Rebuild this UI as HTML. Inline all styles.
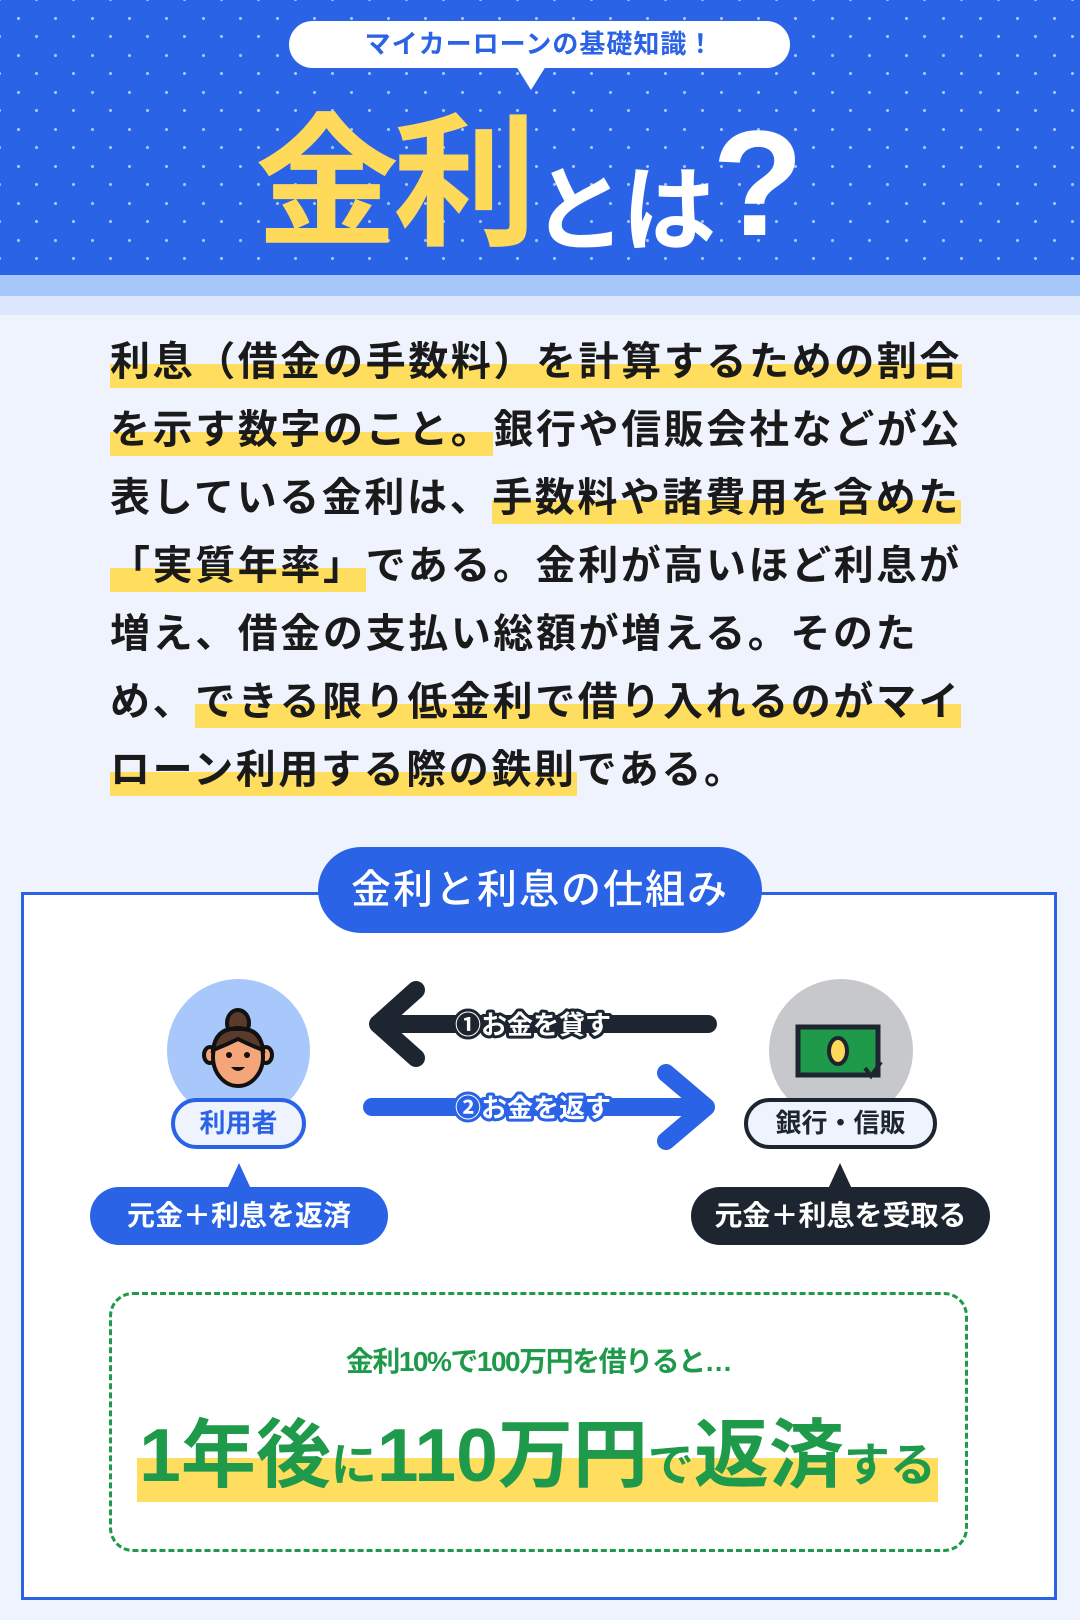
<!DOCTYPE html>
<html><head><meta charset="utf-8"><style>
*{margin:0;padding:0;box-sizing:border-box}
body{width:1080px;height:1620px;overflow:hidden;background:#eef3fd;font-family:"Liberation Sans","Noto Sans CJK JP",sans-serif;font-weight:700;position:relative}
.a{position:absolute}
#hdr{left:0;top:0;width:1080px;height:275px;background-color:#2b63e6;background-image:radial-gradient(circle,#a9c4f7 1.3px,transparent 1.8px),radial-gradient(circle,#a9c4f7 1.3px,transparent 1.8px);background-size:37px 37px,37px 37px;background-position:0 0,18px 18px}
.line{position:absolute;left:110px;font-size:40px;letter-spacing:2.6px;color:#1a1a1a;white-space:nowrap;line-height:48px}
.hl{background:linear-gradient(to bottom,transparent 50%,#ffdd5f 50%,#ffdd5f 100%);padding-bottom:4px}
</style></head><body>
<div id="hdr" class="a"></div>
<div class="a" style="left:0;top:275px;width:1080px;height:21px;background:#a8c7fb"></div>
<div class="a" style="left:0;top:296px;width:1080px;height:19px;background:#dce7fd"></div>
<div class="a" style="left:289px;top:21px;width:501px;height:47px;background:#fff;border-radius:24px;text-align:center;line-height:47px;font-size:26px;color:#2b63e6;letter-spacing:1px">マイカーローンの基礎知識！</div>
<div class="a" style="left:516px;top:66px;width:0;height:0;border-left:15px solid transparent;border-right:15px solid transparent;border-top:24px solid #fff"></div>
<div class="a" style="left:255px;top:100px;font-size:144px;line-height:170px;color:#ffd95a;letter-spacing:-6px">金利</div>
<div class="a" style="left:532px;top:156px;font-size:94px;line-height:110px;color:#fff;letter-spacing:-4px">とは</div>
<div class="a" style="left:712px;top:98px;font-size:150px;line-height:170px;color:#fff">?</div>

<div class="line" style="top:338px"><span class="hl">利息（借金の手数料）を計算するための割合</span></div>
<div class="line" style="top:406px"><span class="hl">を示す数字のこと。</span>銀行や信販会社などが公</div>
<div class="line" style="top:474px">表している金利は、<span class="hl">手数料や諸費用を含めた</span></div>
<div class="line" style="top:542px"><span class="hl">「実質年率」</span>である。金利が高いほど利息が</div>
<div class="line" style="top:610px">増え、借金の支払い総額が増える。そのた</div>
<div class="line" style="top:678px">め、<span class="hl">できる限り低金利で借り入れるのがマイ</span></div>
<div class="line" style="top:746px"><span class="hl">ローン利用する際の鉄則</span>である。</div>

<div class="a" style="left:21px;top:892px;width:1036px;height:708px;border:3px solid #2b63e6;background:#fff"></div>
<div class="a" style="left:318px;top:847px;width:444px;height:86px;background:#2b63e6;border-radius:43px;color:#fff;font-size:40px;text-align:center;line-height:86px;letter-spacing:2px;font-weight:500">金利と利息の仕組み</div>

<div class="a" style="left:167px;top:979px;width:143px;height:143px;border-radius:50%;background:#a8c7fb"></div>
<div class="a" style="left:769px;top:979px;width:144px;height:143px;border-radius:50%;background:#c7c8cb"></div>
<svg class="a" style="left:200px;top:1005px" width="76" height="85" viewBox="0 0 76 85">
<ellipse cx="38" cy="18" rx="11" ry="13" fill="#5a3a2a" stroke="#111" stroke-width="4"/>
<ellipse cx="10" cy="50" rx="6" ry="8" fill="#f4a67a" stroke="#111" stroke-width="4"/>
<ellipse cx="66" cy="50" rx="6" ry="8" fill="#f4a67a" stroke="#111" stroke-width="4"/>
<ellipse cx="38" cy="52" rx="25" ry="29" fill="#f4a67a" stroke="#111" stroke-width="4"/>
<path d="M13 45 Q16 22 38 24 Q60 22 63 45 Q50 40 38 34 Q26 40 13 45Z" fill="#5a3a2a" stroke="#111" stroke-width="4"/>
<circle cx="29" cy="50" r="3" fill="#111"/><circle cx="47" cy="50" r="3" fill="#111"/>
<path d="M31 62 Q38 70 45 62Z" fill="#111"/></svg>
<svg class="a" style="left:795px;top:1024px" width="90" height="58" viewBox="0 0 90 58">
<rect x="3" y="3" width="80" height="48" fill="#1f9a4b" stroke="#1d2630" stroke-width="5"/>
<ellipse cx="43" cy="27" rx="9" ry="13" fill="#ffd95a" stroke="#1d2630" stroke-width="4"/>
<path d="M70 44 l6 8 l10 -14" fill="none" stroke="#1d2630" stroke-width="4"/></svg>

<div class="a" style="left:171px;top:1098px;width:135px;height:51px;border:4px solid #2b63e6;border-radius:26px;background:#eef3fd;color:#2b63e6;font-size:26px;text-align:center;line-height:43px">利用者</div>
<div class="a" style="left:744px;top:1098px;width:193px;height:51px;border:4px solid #1d2630;border-radius:26px;background:#eef3fd;color:#1d2630;font-size:26px;text-align:center;line-height:43px">銀行・信販</div>

<svg class="a" style="left:360px;top:975px" width="370" height="180" viewBox="0 0 370 180">
<path d="M348 49 H22 M56 15 L18 49 L56 83" fill="none" stroke="#1d2630" stroke-width="18" stroke-linecap="round" stroke-linejoin="round"/>
<path d="M12 132 H340 M306 98 L346 132 L306 166" fill="none" stroke="#2b63e6" stroke-width="18" stroke-linecap="round" stroke-linejoin="round"/>
<text x="95" y="59" font-size="26" font-weight="700" fill="#fff" stroke="#1d2630" stroke-width="6" paint-order="stroke" stroke-linejoin="round" font-family="Liberation Sans,Noto Sans CJK JP,sans-serif">①お金を貸す</text>
<text x="95" y="142" font-size="26" font-weight="700" fill="#fff" stroke="#2b63e6" stroke-width="6" paint-order="stroke" stroke-linejoin="round" font-family="Liberation Sans,Noto Sans CJK JP,sans-serif">②お金を返す</text>
</svg>

<div class="a" style="left:227px;top:1163px;width:0;height:0;border-left:12px solid transparent;border-right:12px solid transparent;border-bottom:26px solid #2b63e6"></div>
<div class="a" style="left:828px;top:1163px;width:0;height:0;border-left:12px solid transparent;border-right:12px solid transparent;border-bottom:26px solid #1d2630"></div>
<div class="a" style="left:90px;top:1187px;width:298px;height:58px;border-radius:29px;background:#2b63e6;color:#fff;font-size:28px;text-align:center;line-height:58px;font-weight:700">元金＋利息を返済</div>
<div class="a" style="left:691px;top:1187px;width:299px;height:58px;border-radius:29px;background:#1d2630;color:#fff;font-size:28px;text-align:center;line-height:58px;font-weight:700">元金＋利息を受取る</div>

<div class="a" style="left:109px;top:1292px;width:859px;height:260px;border:3px dashed #1f9a4b;border-radius:24px"></div>
<div class="a" style="left:137px;top:1458px;width:801px;height:44px;background:#ffdd5f"></div>
<div class="a" style="left:109px;top:1340px;width:859px;text-align:center;font-size:28px;color:#1f9a4b;letter-spacing:-1.5px">金利10%で100万円を借りると…</div>
<div class="a" style="left:137px;top:1410px;width:801px;text-align:center;color:#1f9a4b;white-space:nowrap;line-height:90px;letter-spacing:0px"><span style="font-size:75px">1年後</span><span style="font-size:46px">に</span><span style="font-size:75px">110万円</span><span style="font-size:46px">で</span><span style="font-size:75px">返済</span><span style="font-size:46px">する</span></div>
</body></html>
